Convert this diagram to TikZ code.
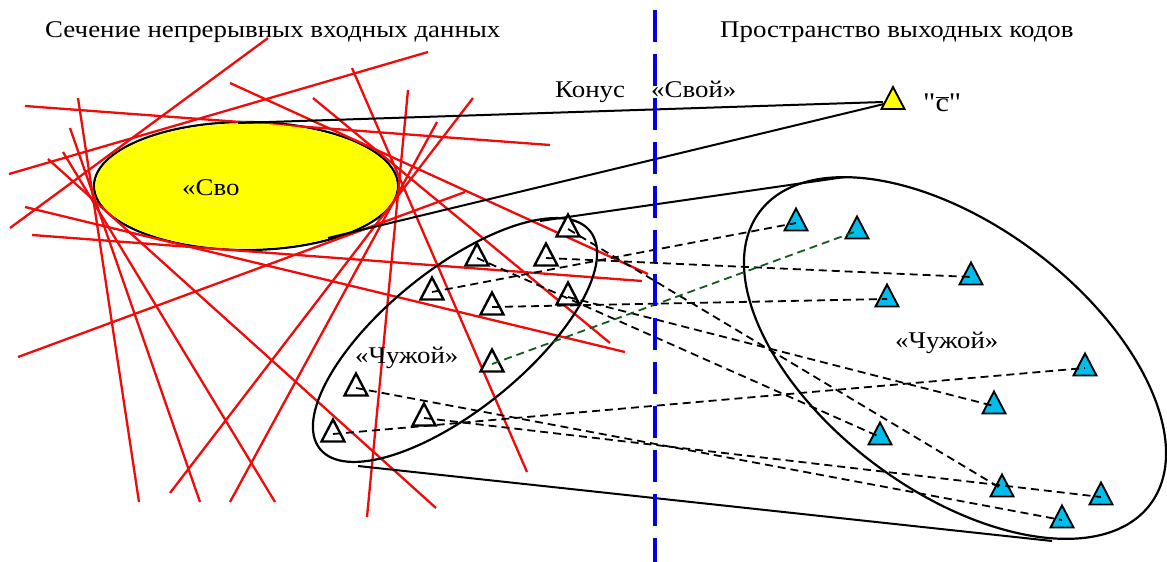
\documentclass[tikz,border=0pt]{standalone}
\usepackage{graphicx}
\usepackage{fontspec}
\setmainfont{Liberation Serif}
\newfontfamily\qfont{Liberation Serif}[Ligatures=TeXOff]
\definecolor{lred}{RGB}{240,10,10}
\definecolor{bblue}{RGB}{0,0,230}
\definecolor{tcyan}{RGB}{0,190,235}
\definecolor{dgreen}{RGB}{20,90,30}
\definecolor{yel}{RGB}{255,255,0}
\newcommand\tri[3]{\coordinate (#1) at (#2); \draw[#3] (#1) ++(0,-14.5) -- ++(11.5,22) -- ++(-23,0) -- cycle;}
\newcommand\wide[1]{\scalebox{1.12}[1]{#1}}
\begin{document}
\begin{tikzpicture}[x=1pt,y=-1pt,
  redline/.style={draw=lred, line width=2.3pt},
  wtri/.style={draw=black, line width=2.4pt, fill=white, line join=miter},
  ctri/.style={draw=black, line width=1.9pt, fill=tcyan, line join=miter},
  ytri/.style={draw=black, line width=1.9pt, fill=yel, line join=miter},
  conn/.style={black, line width=1.8pt, dash pattern=on 8pt off 5pt},
  gconn/.style={dgreen, line width=1.8pt, dash pattern=on 8pt off 5pt},
  cone/.style={black, line width=2pt},
  outline/.style={black, line width=2.2pt},
  axisline/.style={bblue, line width=3.8pt, dash pattern=on 32pt off 12pt},
  lbl/.style={anchor=base west, inner sep=0pt, font=\fontsize{24}{27}\selectfont}]
\useasboundingbox (0,0) rectangle (1167,562);
\fill[white] (0,0) rectangle (1167,562);
% own-class ellipse border
\draw[outline] (246,186) ellipse [x radius=152, y radius=64];
% red hyperplanes
\foreach \a/\b in {{(268,38)}/{(10,228)}, {(428,52)}/{(9,174)}, {(25,106)}/{(550,145)},
  {(230,83)}/{(648,274)}, {(352,68)}/{(527,472)}, {(408,90)}/{(367,517)},
  {(313,98)}/{(610,343)}, {(25,207)}/{(625,352)}, {(32,235)}/{(642,281)},
  {(18,357)}/{(465,192)}, {(78,98)}/{(139,502)}, {(473,98)}/{(170,493)},
  {(70,128)}/{(200,502)}, {(437,122)}/{(230,502)}, {(63,152)}/{(275,502)},
  {(48,159)}/{(436,508)}}
  \draw[redline] \a -- \b;
\fill[yel] (246,186) ellipse [x radius=150.5, y radius=62.5];
% alien ellipses
\draw[outline, rotate around={38.9:(455,340)}] (455,340) ellipse [x radius=173.5, y radius=70.3];
\draw[outline, rotate around={-36.8:(955,358)}] (955,358) ellipse [x radius=244, y radius=133];
% cone coordinates
\coordinate (sownA) at (238,123);
\coordinate (sownB) at (328,238);
\coordinate (alA) at (540,221);
\coordinate (alB) at (358,466);
\coordinate (arA) at (845,177);
\coordinate (arB) at (1052,541);
% triangles
\tri{ycode}{893,101.5}{ytri}
\coordinate (ytipA) at (883,102);
\coordinate (ytipB) at (884,104);
\draw[cone] (sownA) -- (ytipA);
\draw[cone] (sownB) -- (ytipB);
\draw[cone] (alA) -- (arA);
\draw[cone] (alB) -- (arB);
\tri{t1}{568,229}{wtri}
\tri{t2}{477,258}{wtri}
\tri{t3}{546,258}{wtri}
\tri{t4}{432,292}{wtri}
\tri{t5}{568,297}{wtri}
\tri{t6}{492,307}{wtri}
\tri{t7}{492,364}{wtri}
\tri{t8}{356,388}{wtri}
\tri{t9}{424,418}{wtri}
\tri{t10}{333,434}{wtri}
\tri{r1}{796,223}{ctri}
\tri{r2}{857,231}{ctri}
\tri{r3}{971,277}{ctri}
\tri{r4}{887,299}{ctri}
\tri{r5}{1085,368}{ctri}
\tri{r6}{994,406}{ctri}
\tri{r7}{880,437}{ctri}
\tri{r8}{1002,489}{ctri}
\tri{r9}{1101,497}{ctri}
\tri{r10}{1062,520}{ctri}
% mappings
\draw[conn] (t1) -- (r8);
\draw[conn] (t2) -- (r7);
\draw[conn] (t3) -- (r3);
\draw[conn] (t4) -- (r1);
\draw[conn] (t5) -- (r6);
\draw[conn] (t6) -- (r4);
\draw[gconn] (t7) -- (r2);
\draw[conn] (t8) -- (r10);
\draw[conn] (t9) -- (r9);
\draw[conn] (t10) -- (r5);
% boundary between spaces
\coordinate (axtop) at (655,10);
\coordinate (axbot) at (655,562);
\draw[axisline] (axtop) -- (axbot);
% labels
\node[lbl] (tl) at (45,37) {\wide{Сечение непрерывных входных данных}};
\node[lbl] (tr) at (720,37) {\wide{Пространство выходных кодов}};
\node[lbl] (kon) at (555,97) {\wide{Конус}};
\node[lbl] (svoy) at (651,97) {\wide{«Свой»}};
\node[lbl] (svo) at (182,195) {\wide{«Сво}};
\node[lbl] (chl) at (355,363) {\wide{«Чужой»}};
\node[lbl] (chr) at (895,348) {\wide{«Чужой»}};
\node[lbl, font=\fontsize{27}{30}\selectfont\qfont] (cb) at (923,111) {\wide{"$\overline{\mbox{c}}$"}};
\end{tikzpicture}
\end{document}
